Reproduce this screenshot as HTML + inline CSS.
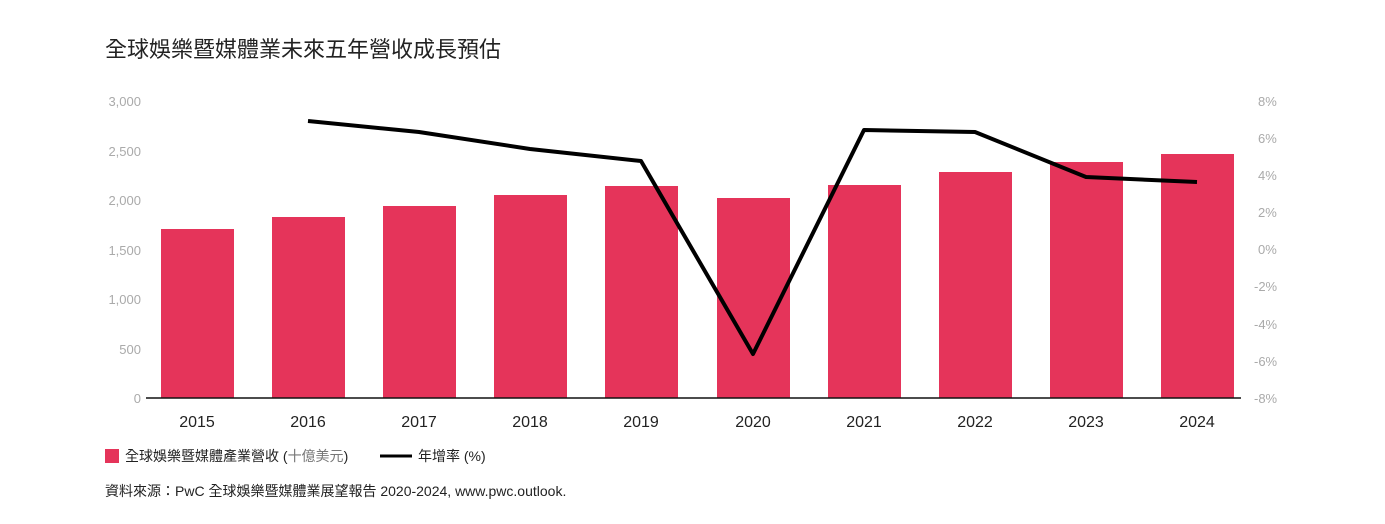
<!DOCTYPE html>
<html><head><meta charset="utf-8"><style>
body{margin:0;background:#fff;}
svg{display:block;font-family:"Liberation Sans","Noto Sans CJK TC",sans-serif;}
</style></head><body>
<svg width="1385" height="524" viewBox="0 0 1385 524">
<text x="105" y="57" font-size="22" fill="#222">全球娛樂暨媒體業未來五年營收成長預估</text>
<g font-size="13" fill="#aaa" text-anchor="end">
<text x="141" y="106">3,000</text><text x="141" y="156">2,500</text><text x="141" y="205">2,000</text>
<text x="141" y="255">1,500</text><text x="141" y="304">1,000</text><text x="141" y="354">500</text><text x="141" y="403">0</text>
</g>
<g font-size="13" fill="#aaa" text-anchor="start">
<text x="1258" y="106">8%</text><text x="1258" y="143">6%</text><text x="1258" y="180">4%</text>
<text x="1258" y="217">2%</text><text x="1258" y="254">0%</text><text x="1254" y="291">-2%</text>
<text x="1254" y="329">-4%</text><text x="1254" y="366">-6%</text><text x="1254" y="403">-8%</text>
</g>
<g fill="#e5345a">
<rect x="161" y="229" width="73" height="169"/>
<rect x="272" y="217" width="73" height="181"/>
<rect x="383" y="206" width="73" height="192"/>
<rect x="494" y="195" width="73" height="203"/>
<rect x="605" y="186" width="73" height="212"/>
<rect x="717" y="198" width="73" height="200"/>
<rect x="828" y="185" width="73" height="213"/>
<rect x="939" y="172" width="73" height="226"/>
<rect x="1050" y="162" width="73" height="236"/>
<rect x="1161" y="154" width="73" height="244"/>
</g>
<line x1="146" y1="398" x2="1241" y2="398" stroke="#111" stroke-width="1.5"/>
<polyline points="308,121 419,132 530,149 641,161 753,354 864,130 975,132 1086,177 1197,182" fill="none" stroke="#000" stroke-width="4" stroke-linejoin="round"/>
<g font-size="16" fill="#222" text-anchor="middle">
<text x="197" y="427">2015</text><text x="308" y="427">2016</text><text x="419" y="427">2017</text>
<text x="530" y="427">2018</text><text x="641" y="427">2019</text><text x="753" y="427">2020</text>
<text x="864" y="427">2021</text><text x="975" y="427">2022</text><text x="1086" y="427">2023</text><text x="1197" y="427">2024</text>
</g>
<rect x="105" y="449" width="14" height="14" fill="#e5345a"/>
<text x="125" y="461" font-size="14" fill="#222">全球娛樂暨媒體產業營收 (<tspan fill="#777">十億美元</tspan>)</text>
<line x1="380" y1="456" x2="412" y2="456" stroke="#000" stroke-width="3"/>
<text x="418" y="461" font-size="14" fill="#222">年增率 (%)</text>
<text x="105" y="496" font-size="14" fill="#222">資料來源：PwC 全球娛樂暨媒體業展望報告 2020-2024, www.pwc.outlook.</text>
</svg>
</body></html>
